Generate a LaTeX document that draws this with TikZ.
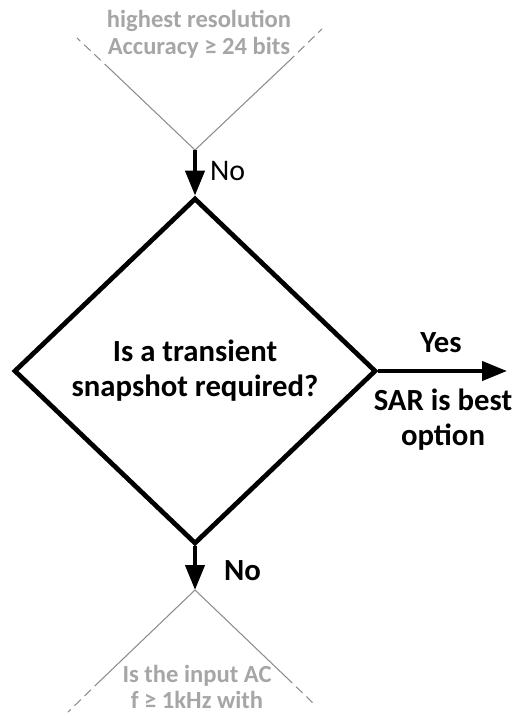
\documentclass[tikz,border=0pt]{standalone}
\usepackage{fontspec}
\setmainfont{Carlito}
\usetikzlibrary{shapes.geometric,arrows.meta}
\definecolor{fadegrey}{RGB}{166,166,166}
\definecolor{edgegrey}{RGB}{140,140,140}
\tikzset{
  flowarrow/.style={line width=0.085cm, -{Triangle[length=0.5cm,width=0.38cm]}},
  fadeline/.style={edgegrey, line width=0.6pt},
  fadedash/.style={fadeline, dash pattern=on 5pt off 3pt},
  fadetext/.style={fadegrey, align=center, font=\fontsize{14}{15.2}\selectfont\bfseries},
  flowtext/.style={align=center, font=\fontsize{17.5}{19.8}\selectfont\bfseries},
}
\begin{document}
\begin{tikzpicture}[x=0.02cm,y=-0.02cm]
  \useasboundingbox (0,0) rectangle (518,716);

  % Decision
  \node[diamond, draw, line width=0.095cm, minimum width=362*0.02cm,
        minimum height=346*0.02cm, inner sep=0pt, flowtext] (snap) at (195,371)
        {Is a transient\\snapshot required?};

  % Previous decision (cut off)
  \coordinate (prev) at (195,150);
  \draw[fadeline] (prev) -- (111,70);
  \draw[fadedash] (111,70) -- (77,38);
  \draw[fadeline] (prev) -- (288,62);
  \draw[fadedash] (288,62) -- (322,29);
  \node[fadetext] (prevtext) at (199,34) {highest resolution\\Accuracy ≥ 24 bits};

  % Next decision (cut off)
  \coordinate (next) at (195,590);
  \draw[fadeline] (next) -- (101,680);
  \draw[fadedash] (101,680) -- (68,712);
  \draw[fadeline] (next) -- (286,677);
  \draw[fadedash] (286,677) -- (313,703);
  \node[fadetext] (nexttext) at (197,687) {Is the input AC\\f ≥ 1kHz with};

  % Arrows
  \draw[flowarrow] (prev) -- (snap.north) node[pos=0.45, right=4pt,
        font=\fontsize{17}{18}\selectfont] (topno) {No};
  \draw[flowarrow] (snap.south) -- (next) node[pos=0.55, right=12pt,
        flowtext] (botno) {No};
  \coordinate (sar) at (507,371);
  \draw[flowarrow] (snap.east) -- (sar);
  \node[flowtext] (yes) at (441,343) {Yes};
  \node[flowtext] (best) at (443,420) {SAR is best\\option};
\end{tikzpicture}
\end{document}
